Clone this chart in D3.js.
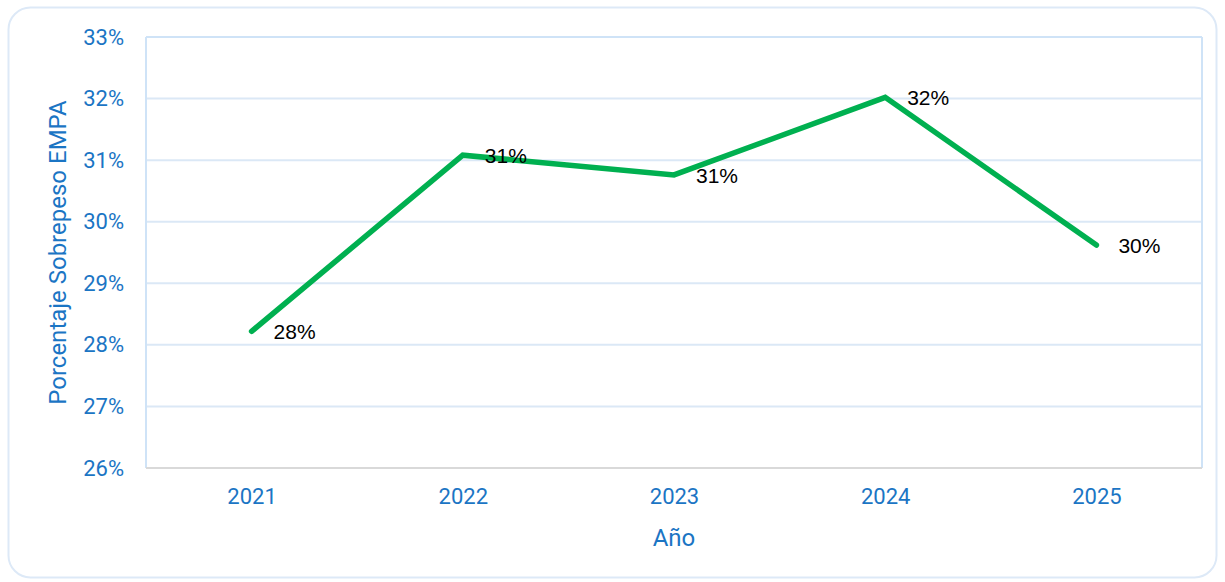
<!DOCTYPE html>
<html><head><meta charset="utf-8">
<script src="https://cdn.jsdelivr.net/npm/d3@7"></script>
<style>body{margin:0;background:#fff;}svg{display:block;}</style>
</head><body>
<svg id="chart" width="1225" height="582"></svg>
<script>
const years = ["2021","2022","2023","2024","2025"];
const values = [28.22, 31.08, 30.76, 32.02, 29.62];
const labels = ["28%","31%","31%","32%","30%"];
const yTicks = [26,27,28,29,30,31,32,33];

const svg = d3.select("#chart");
const W = 1225, H = 582;
const m = {left:146, right:23, top:37, bottom:114};
const x = d3.scalePoint().domain(years).range([m.left, W - m.right]).padding(0.5);
const y = d3.scaleLinear().domain([26,33]).range([H - m.bottom, m.top]);
const blue = "#1b75c4";
const axisFont = "Roboto, 'Liberation Sans', Arial, sans-serif";

svg.append("rect").attr("x",8.5).attr("y",7.5).attr("width",1208).attr("height",570)
  .attr("rx",22).attr("fill","#fff").attr("stroke","#dde9f7").attr("stroke-width",2);

// gridlines
svg.append("g").selectAll("line").data(yTicks.slice(1)).join("line")
  .attr("x1",m.left).attr("x2",W-m.right)
  .attr("y1",d=>y(d)).attr("y2",d=>y(d))
  .attr("stroke","#dbe8f6").attr("stroke-width",2);
// frame left/right/top
svg.append("line").attr("x1",m.left).attr("x2",m.left).attr("y1",m.top).attr("y2",H-m.bottom)
  .attr("stroke","#cfe3f7").attr("stroke-width",2);
svg.append("line").attr("x1",W-m.right).attr("x2",W-m.right).attr("y1",m.top).attr("y2",H-m.bottom)
  .attr("stroke","#cfe3f7").attr("stroke-width",2);
svg.append("line").attr("x1",m.left).attr("x2",W-m.right).attr("y1",m.top).attr("y2",m.top)
  .attr("stroke","#cfe3f7").attr("stroke-width",2);
// bottom axis line
svg.append("line").attr("x1",m.left).attr("x2",W-m.right).attr("y1",H-m.bottom).attr("y2",H-m.bottom)
  .attr("stroke","#d9d9d9").attr("stroke-width",2);

// y axis tick labels
const yAxis = d3.axisLeft(y).tickValues(yTicks).tickFormat(d=>d+"%").tickSize(0).tickPadding(22);
const gy = svg.append("g").attr("transform",`translate(${m.left},0)`).call(yAxis);
gy.select(".domain").remove();
gy.selectAll("text").attr("fill",blue).attr("font-size",22).attr("font-family",axisFont);

// x axis tick labels
const xAxis = d3.axisBottom(x).tickSize(0).tickPadding(20);
const gx = svg.append("g").attr("transform",`translate(0,${H-m.bottom})`).call(xAxis);
gx.select(".domain").remove();
gx.selectAll("text").attr("fill",blue).attr("font-size",22).attr("font-family",axisFont);

// axis titles
svg.append("text").attr("x",(m.left+W-m.right)/2).attr("y",546).attr("text-anchor","middle")
  .attr("fill",blue).attr("font-size",24).attr("font-family",axisFont).text("Año");
svg.append("text").attr("transform",`translate(66,${(m.top+H-m.bottom)/2}) rotate(-90)`)
  .attr("text-anchor","middle").attr("fill",blue).attr("font-size",24).attr("font-family",axisFont)
  .text("Porcentaje Sobrepeso EMPA");

// line
const data = years.map((d,i)=>({year:d, v:values[i], label:labels[i]}));
svg.append("path").datum(data)
  .attr("d", d3.line().x(d=>x(d.year)).y(d=>y(d.v)))
  .attr("fill","none").attr("stroke","#00b050").attr("stroke-width",5.5)
  .attr("stroke-linecap","round").attr("stroke-linejoin","miter");

// data labels
svg.append("g").selectAll("text").data(data).join("text")
  .attr("x",d=>x(d.year)+22).attr("y",d=>y(d.v)+8)
  .attr("font-size",21).attr("font-family","'Liberation Sans', Arial, sans-serif").attr("fill","#000")
  .text(d=>d.label);
</script>
</body></html>
